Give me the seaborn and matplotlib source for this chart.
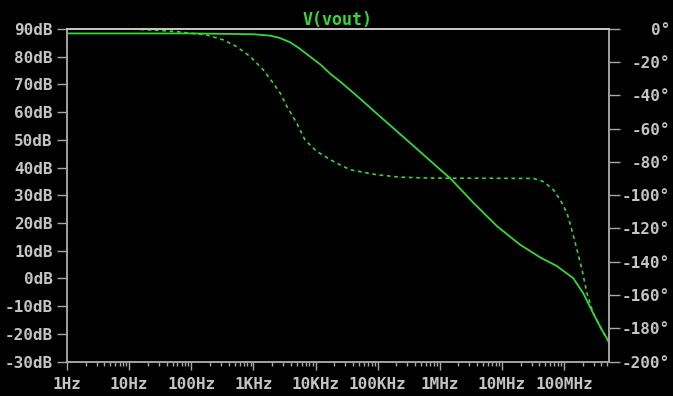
import matplotlib
matplotlib.use("Agg")
import matplotlib.pyplot as plt
import seaborn as sns
from matplotlib.ticker import FixedLocator, LogLocator, NullFormatter

# ---- data ----
mag_freq = [1, 10, 100, 1000, 1860, 2630, 3900, 5500, 8200, 12000, 17000, 25000,
            36000, 55000, 1.0e5, 3.0e5, 1.0e6, 1.48e6, 3.47e6, 8.3e6, 1.95e7,
            4.17e7, 7.6e7, 1.41e8, 2.04e8, 2.95e8, 4.07e8, 5.3e8]
mag_db = [88.4, 88.4, 88.4, 88.1, 87.6, 86.8, 85.2, 83.0, 80.0, 77.2, 74.0, 71.0,
          68.0, 64.4, 59.2, 49.8, 39.4, 36.1, 27.3, 18.9, 12.2,
          7.5, 4.5, 0.06, -5.35, -12.6, -18.6, -23.0]

phase_freq = [1, 10, 30, 59, 178, 331, 537, 891, 1445, 2090, 2750, 3470, 5010,
              6760, 10500, 19500, 36300, 97700, 2.29e5, 7.1e5, 1.0e7, 3.24e7,
              4.68e7, 6.76e7, 8.7e7, 1.12e8, 1.35e8, 1.62e8, 1.95e8, 2.34e8,
              2.63e8, 2.95e8, 4.07e8, 5.3e8]
phase_deg = [0, 0, -0.8, -1.6, -3.6, -6.6, -10.6, -16.6, -24.6, -32.6, -39.0,
             -46.7, -56.7, -66.7, -73.7, -79.7, -84.7, -87.7, -89.1, -89.7,
             -89.8, -89.9, -91.8, -96.8, -102.8, -110.8, -121.5, -132.8, -144.8,
             -158.9, -164.9, -171.0, -181.0, -188.5]

x_ticks = [1, 10, 100, 1e3, 1e4, 1e5, 1e6, 1e7, 1e8]
x_labels = ["1Hz", "10Hz", "100Hz", "1KHz", "10KHz", "100KHz", "1MHz", "10MHz", "100MHz"]
db_ticks = [90, 80, 70, 60, 50, 40, 30, 20, 10, 0, -10, -20, -30]
db_labels = ["90dB", "80dB", "70dB", "60dB", "50dB", "40dB", "30dB", "20dB",
             "10dB", "0dB", "-10dB", "-20dB", "-30dB"]
deg_ticks = [0, -20, -40, -60, -80, -100, -120, -140, -160, -180, -200]
deg_labels = ["0°", "-20°", "-40°", "-60°", "-80°", "-100°", "-120°", "-140°",
              "-160°", "-180°", "-200°"]

# ---- style ----
GREEN = "#35d835"
AXC = "#a8a8a8"
TXT = "#c4c4c4"

sns.set_theme(style="dark", rc={"axes.facecolor": "black",
                                "figure.facecolor": "black",
                                "axes.grid": False})
plt.rcParams["font.family"] = ["DejaVu Sans Mono", "DejaVu Sans"]
plt.rcParams["axes.unicode_minus"] = False

fig = plt.figure(figsize=(6.73, 3.96), dpi=100)
W, H = 673, 396
L, R, T, B = 67, 609, 29, 361.5
ax = fig.add_axes([L / W, 1 - B / H, (R - L) / W, (B - T) / H])
ax.set_facecolor("black")

sns.lineplot(x=mag_freq, y=mag_db, ax=ax, color=GREEN, linewidth=1.3)
ax.set_xscale("log")
ax.set_xlim(1, 5.3e8)
ax.set_ylim(-30, 90)

ax2 = ax.twinx()
sns.lineplot(x=phase_freq, y=phase_deg, ax=ax2, color=GREEN, linewidth=1.2,
             linestyle=(0, (2.2, 2.2)))
ax2.set_ylim(-200, 0)
ax2.set_xlim(1, 5.3e8)

for a in (ax, ax2):
    a.set_xlabel("")
    a.set_ylabel("")
    a.grid(False)
    for s in a.spines.values():
        s.set_visible(True)
        s.set_color(AXC)
        s.set_linewidth(1.1)
ax.spines["top"].set_color("#d0d0d0")
ax2.spines["top"].set_color("#d0d0d0")

ax.xaxis.set_major_locator(FixedLocator(x_ticks))
ax.set_xticks(x_ticks)
ax.set_xticklabels(x_labels)
ax.xaxis.set_minor_locator(LogLocator(base=10, subs=range(2, 10), numticks=20))
ax.xaxis.set_minor_formatter(NullFormatter())
ax.set_yticks(db_ticks)
ax.set_yticklabels(db_labels)
ax2.set_yticks(deg_ticks)
ax2.set_yticklabels(deg_labels)

ax.tick_params(axis="x", which="major", bottom=True, top=False, direction="out",
               length=6, width=1.0, color=AXC, labelcolor=TXT, labelsize=11.5,
               pad=5)
ax.tick_params(axis="x", which="minor", bottom=True, top=False, direction="out",
               length=3, width=1.0, color=AXC)
ax.tick_params(axis="y", left=True, right=False, direction="out", length=7.2,
               width=1.0, color=AXC, labelcolor=TXT, labelsize=11.5, pad=3)
ax2.tick_params(axis="y", left=False, right=True, direction="out", length=8,
                width=1.0, color=AXC, labelcolor=TXT, labelsize=11.5, pad=36)
ax2.tick_params(axis="x", which="both", bottom=False, top=False)
for lab in ax2.get_yticklabels():
    lab.set_horizontalalignment("right")
for lab in ax.get_xticklabels() + ax.get_yticklabels() + ax2.get_yticklabels():
    lab.set_fontweight("bold")

ax.set_title("V(vout)", color=GREEN, fontsize=12, fontweight="bold", pad=3)

fig.savefig("out.png", dpi=100, facecolor="black")
